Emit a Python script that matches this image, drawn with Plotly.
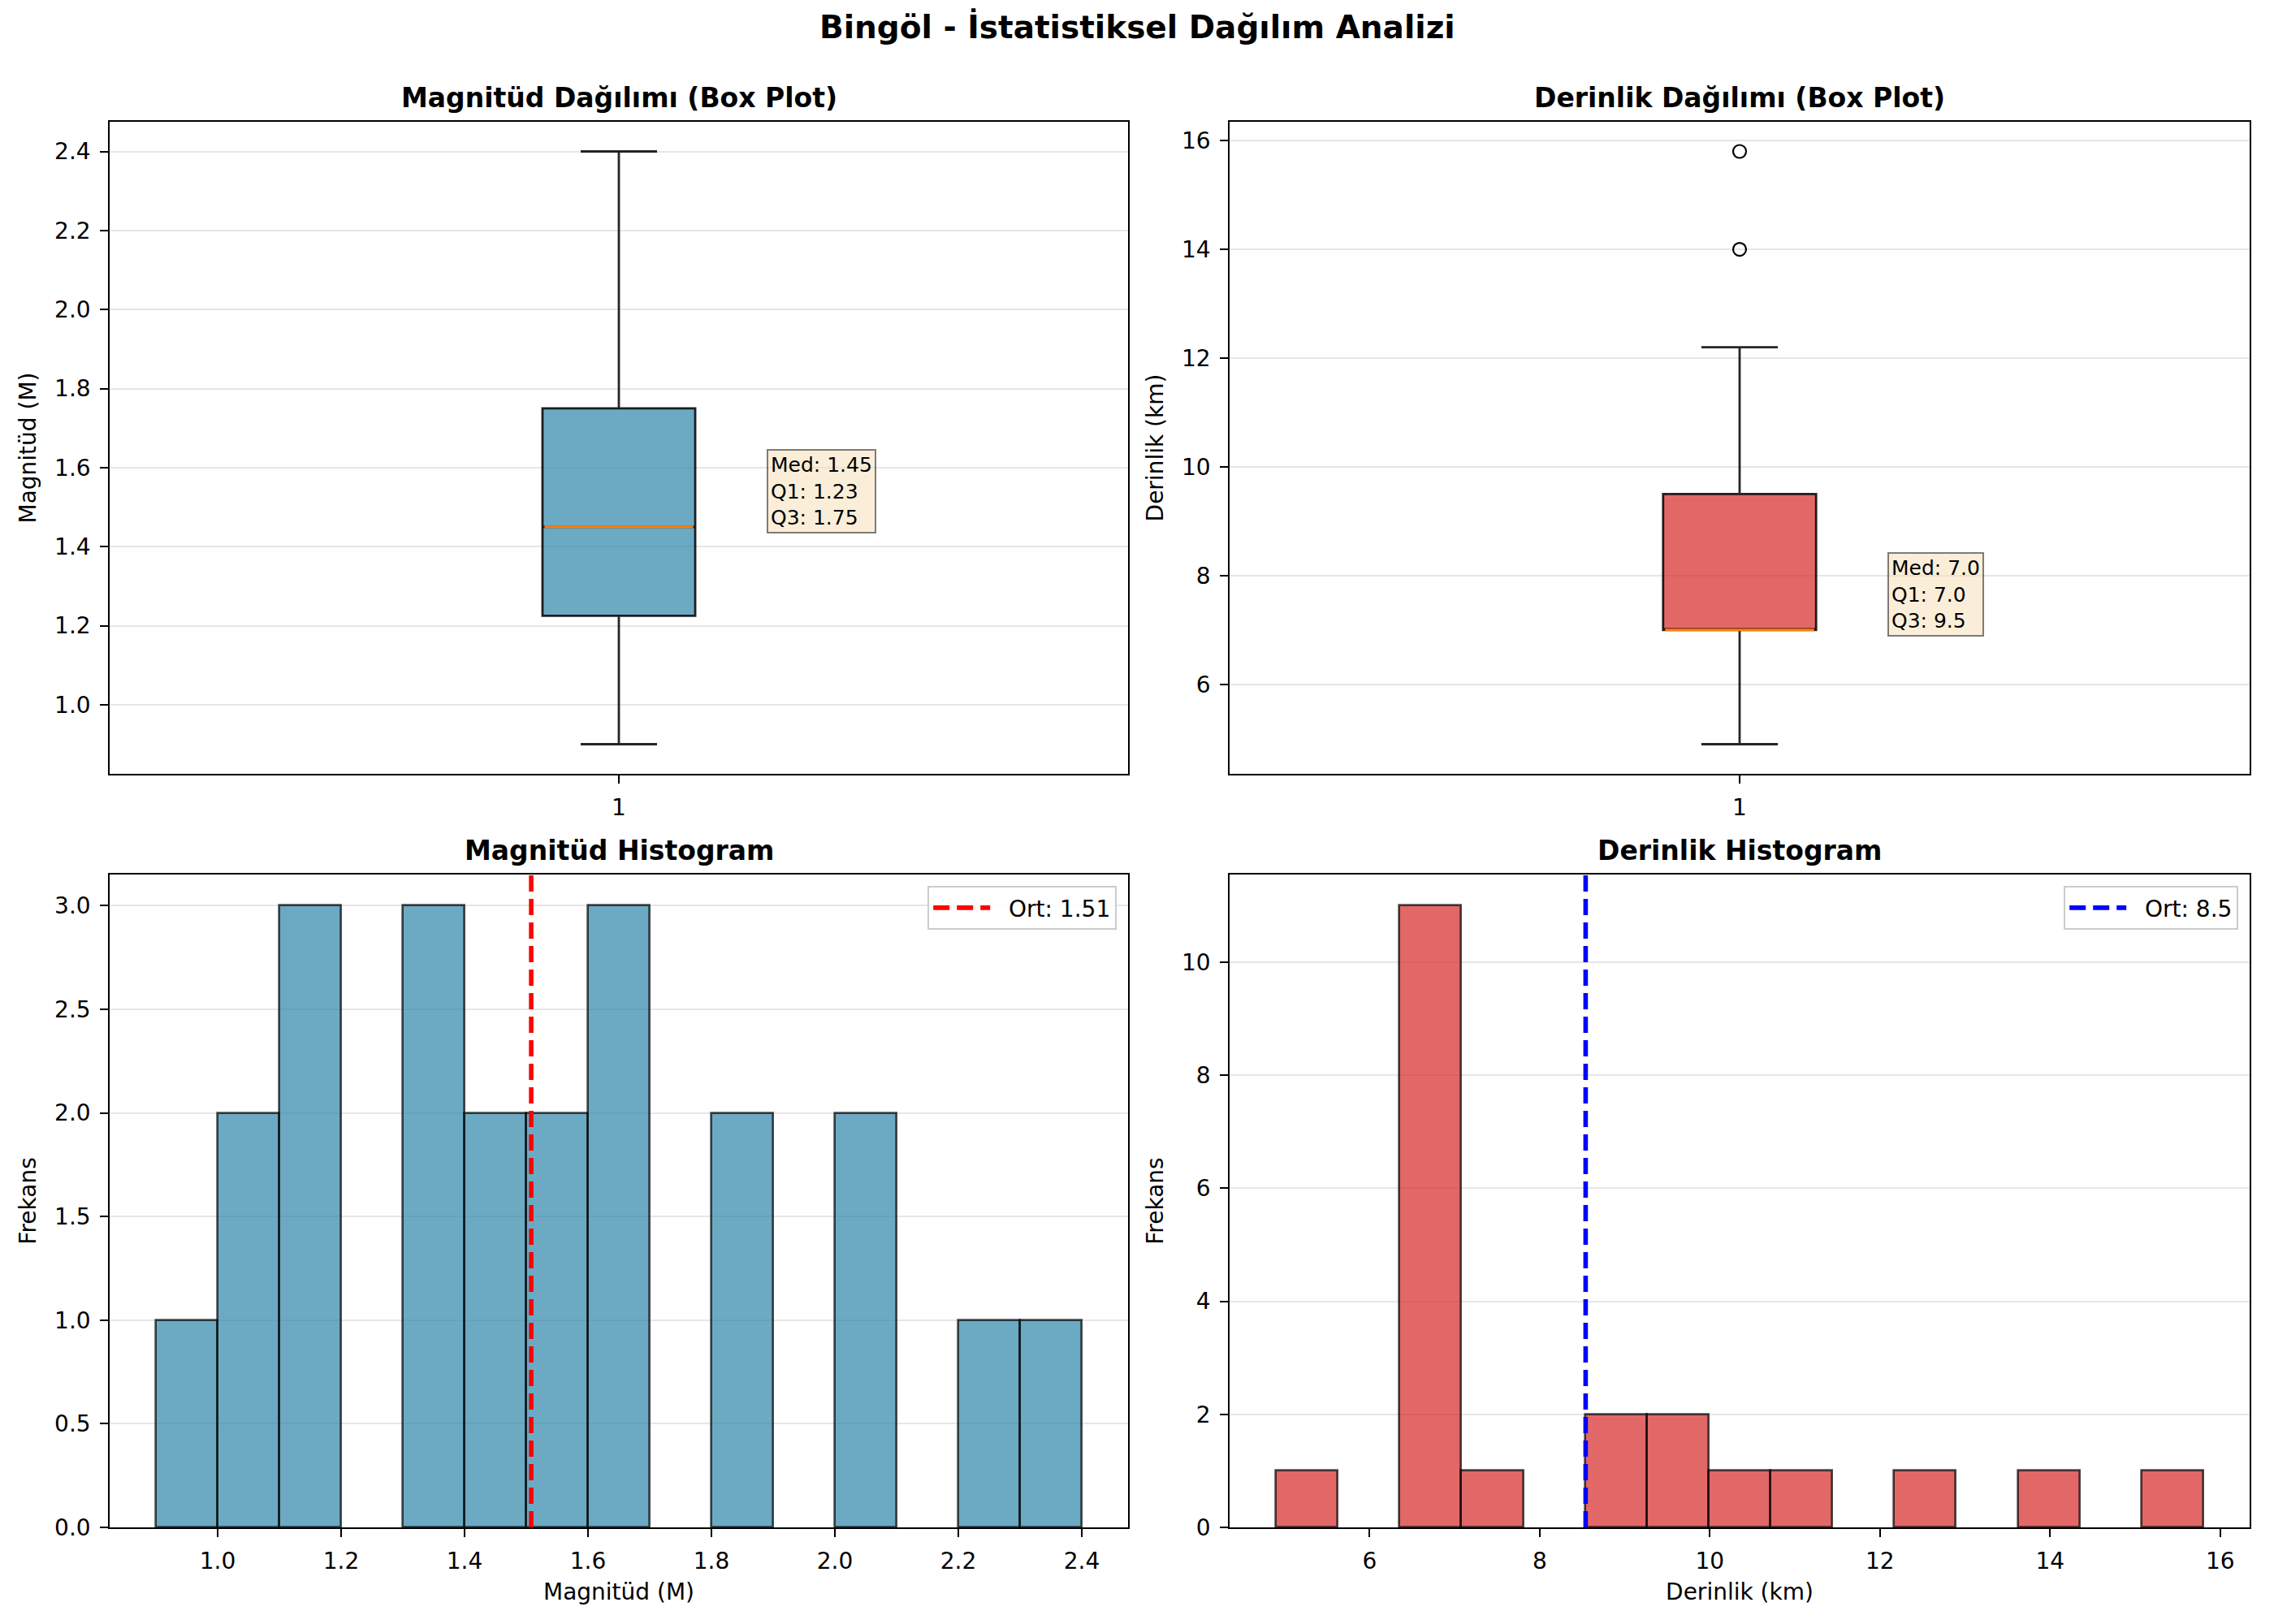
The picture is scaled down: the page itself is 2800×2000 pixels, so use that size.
import numpy as np
import plotly.graph_objects as go

# ---------------- data ----------------
suptitle = "Bingöl - İstatistiksel Dağılım Analizi"

# Box plot statistics
mag_box_stats = {"q1": 1.225, "median": 1.45, "q3": 1.75, "low": 0.9, "high": 2.4}
dep_box_stats = {"q1": 7.0, "median": 7.0, "q3": 9.5, "low": 4.9, "high": 12.2}
dep_outliers = [14.0, 15.8]
mag_outliers = []

# Histogram counts (15 bins each)
mag_min, mag_max = 0.9, 2.4
mag_counts = [1, 2, 3, 0, 3, 2, 2, 3, 0, 2, 0, 2, 0, 1, 1]
mag_mean = 1.508

dep_min, dep_max = 4.9, 15.8
dep_counts = [1, 0, 11, 1, 0, 2, 2, 1, 1, 0, 1, 0, 1, 0, 1]
dep_mean = 8.54

titles = ["Magnitüd Dağılımı (Box Plot)", "Derinlik Dağılımı (Box Plot)",
          "Magnitüd Histogram", "Derinlik Histogram"]

# ---------------- styling ----------------
FONT = "DejaVu Sans"
BLUE_FILL = "rgba(46,134,171,0.7)"
RED_FILL = "rgba(214,40,40,0.7)"
EDGE = "rgba(0,0,0,0.7)"
GRID = "#e6e6e6"
OFF = 8                      # page body margin in the browser
W, H = 2800 - 2 * OFF, 2000 - 2 * OFF


def px_x(p):
    return (p - OFF) / W


def px_y(p):
    return 1 - (p - OFF) / H


col1 = [px_x(135), px_x(1389)]
col2 = [px_x(1514), px_x(2770)]
row1 = [px_y(953), px_y(150)]
row2 = [px_y(1881), px_y(1077)]

fig = go.Figure()

BOX_POS = 1
BOX_W = 0.15


def add_box(stats, outliers, fill, xa, ya):
    fig.add_trace(go.Box(
        x=[BOX_POS], q1=[stats["q1"]], median=[stats["median"]], q3=[stats["q3"]],
        lowerfence=[stats["low"]], upperfence=[stats["high"]],
        width=BOX_W, whiskerwidth=0.5, fillcolor=fill,
        line=dict(color="rgba(0,0,0,0.85)", width=2.8),
        boxpoints=False, showlegend=False, hoverinfo="skip",
        xaxis=xa, yaxis=ya))
    fig.add_trace(go.Scatter(
        x=[BOX_POS - BOX_W / 2 + 0.002, BOX_POS + BOX_W / 2 - 0.002],
        y=[stats["median"], stats["median"]], mode="lines",
        line=dict(color="#ff7f0e", width=3), showlegend=False,
        hoverinfo="skip", xaxis=xa, yaxis=ya))
    if outliers:
        fig.add_trace(go.Scatter(
            x=[BOX_POS] * len(outliers), y=outliers, mode="markers",
            marker=dict(symbol="circle-open", size=16, color="black",
                        line=dict(width=2.2, color="black")),
            showlegend=False, hoverinfo="skip", xaxis=xa, yaxis=ya))


add_box(mag_box_stats, mag_outliers, BLUE_FILL, "x", "y")
add_box(dep_box_stats, dep_outliers, RED_FILL, "x2", "y2")


def add_hist(vmin, vmax, counts, fill, xa, ya, mean, color, fmt, legend):
    edges = np.linspace(vmin, vmax, len(counts) + 1)
    centers = (edges[:-1] + edges[1:]) / 2
    bw = edges[1] - edges[0]
    keep = [i for i, c in enumerate(counts) if c > 0]   # empty bins draw nothing
    fig.add_trace(go.Bar(
        x=[centers[i] for i in keep], y=[counts[i] for i in keep],
        width=[bw] * len(keep),
        marker=dict(color=fill, line=dict(color=EDGE, width=2.7)),
        showlegend=False, hoverinfo="skip", xaxis=xa, yaxis=ya))
    ytop = max(counts) * 1.05
    fig.add_trace(go.Scatter(
        x=[mean, mean], y=[0, ytop], mode="lines",
        line=dict(color=color, width=5.6, dash="20px,9px"),
        name="\u00a0\u00a0" + f"Ort: {mean:{fmt}}", legend=legend, showlegend=True,
        hoverinfo="skip", xaxis=xa, yaxis=ya))
    return ytop


mag_top = add_hist(mag_min, mag_max, mag_counts, BLUE_FILL, "x3", "y3",
                   mag_mean, "red", ".2f", "legend")
dep_top = add_hist(dep_min, dep_max, dep_counts, RED_FILL, "x4", "y4",
                   dep_mean, "blue", ".1f", "legend2")


def pad_range(lo, hi, frac=0.05):
    m = (hi - lo) * frac
    return [lo - m, hi + m]


mag_box_rng = pad_range(min([mag_box_stats["low"]] + mag_outliers),
                        max([mag_box_stats["high"]] + mag_outliers))
dep_box_rng = pad_range(min([dep_box_stats["low"]] + dep_outliers),
                        max([dep_box_stats["high"]] + dep_outliers))

tickfont = dict(family=FONT, size=28, color="black")
labelfont = dict(family=FONT, size=28, color="black")


def axis(domain, anchor, rng, dtick=None, fmt=None, grid=False, title=None,
         tickvals=None, ticktext=None, standoff=14):
    d = dict(domain=domain, anchor=anchor, range=rng, showline=True,
             linecolor="black", linewidth=2.2, mirror=True, ticks="outside",
             ticklen=9.7, tickwidth=2.2, tickcolor="black", tickfont=tickfont,
             showgrid=grid, gridcolor=GRID, gridwidth=2.2, zeroline=False,
             ticklabelstandoff=6, automargin=False)
    if dtick is not None:
        d["dtick"] = dtick
        d["tick0"] = 0
    if fmt:
        d["tickformat"] = fmt
    if tickvals is not None:
        d["tickvals"] = tickvals
        d["ticktext"] = ticktext
    if title:
        d["title"] = dict(text=title, font=labelfont, standoff=standoff)
    return d


def legend_cfg(x, y):
    return dict(x=x, xanchor="right", y=y, yanchor="top",
                bgcolor="rgba(255,255,255,0.8)", bordercolor="#cccccc",
                borderwidth=2.2, itemwidth=70,
                font=dict(family=FONT, size=28, color="black"))


fig.update_layout(
    width=W, height=H, margin=dict(l=0, r=0, t=0, b=0, autoexpand=False),
    paper_bgcolor="white", plot_bgcolor="white",
    font=dict(family=FONT, color="black"),
    xaxis=axis(col1, "y", [0.5, 1.5], tickvals=[BOX_POS], ticktext=[str(BOX_POS)]),
    yaxis=axis(row1, "x", mag_box_rng, dtick=0.2, fmt=".1f", grid=True,
               title="Magnitüd (M)"),
    xaxis2=axis(col2, "y2", [0.5, 1.5], tickvals=[BOX_POS], ticktext=[str(BOX_POS)]),
    yaxis2=axis(row1, "x2", dep_box_rng, dtick=2, grid=True, title="Derinlik (km)"),
    xaxis3=axis(col1, "y3", pad_range(mag_min, mag_max), dtick=0.2, fmt=".1f",
                title="Magnitüd (M)", standoff=12),
    yaxis3=axis(row2, "x3", [0, mag_top], dtick=0.5, fmt=".1f", grid=True,
                title="Frekans"),
    xaxis4=axis(col2, "y4", pad_range(dep_min, dep_max), dtick=2,
                title="Derinlik (km)", standoff=12),
    yaxis4=axis(row2, "x4", [0, dep_top], dtick=2, grid=True, title="Frekans"),
    legend=legend_cfg(col1[1] - 14 / W, row2[1] - 14 / H),
    legend2=legend_cfg(col2[1] - 14 / W, row2[1] - 14 / H),
    bargap=0,
)

# subplot titles
for t, dom_x, dom_y in zip(titles, [col1, col2, col1, col2], [row1, row1, row2, row2]):
    fig.add_annotation(text=f"<b>{t}</b>", x=(dom_x[0] + dom_x[1]) / 2,
                       y=dom_y[1], xref="paper", yref="paper", xanchor="center",
                       yanchor="bottom", yshift=8, showarrow=False,
                       font=dict(family=FONT, size=33, color="black"))

# suptitle
fig.add_annotation(text=f"<b>{suptitle}</b>", x=px_x(1400), y=1, xref="paper",
                   yref="paper", xanchor="center", yanchor="top", showarrow=False,
                   font=dict(family=FONT, size=39, color="black"))

# stats text boxes
for stats, xr, yr, fmt in [(mag_box_stats, "x", "y", ".2f"),
                            (dep_box_stats, "x2", "y2", ".1f")]:
    txt = (f"Med: {stats['median']:{fmt}}<br>Q1: {stats['q1']:{fmt}}"
           f"<br>Q3: {stats['q3']:{fmt}}")
    fig.add_annotation(text=txt, x=BOX_POS + 0.15, y=stats["median"], xref=xr, yref=yr,
                       xanchor="left", yanchor="bottom", align="left",
                       xshift=-6, yshift=-8, showarrow=False,
                       bgcolor="rgba(245,222,179,0.5)", bordercolor="rgba(0,0,0,0.5)",
                       borderwidth=2, borderpad=3,
                       font=dict(family=FONT, size=25, color="black"))

fig.write_html("out.html")
